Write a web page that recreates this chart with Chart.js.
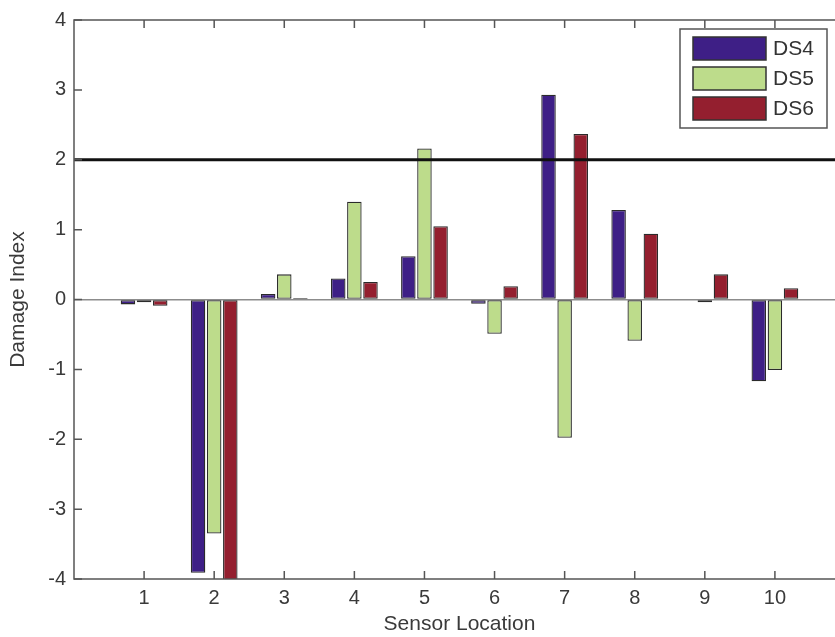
<!DOCTYPE html>
<html>
<head>
<meta charset="utf-8">
<script src="https://cdn.jsdelivr.net/npm/chart.js@4.4.0/dist/chart.umd.min.js"></script>
<style>
  html, body { margin: 0; padding: 0; background: #fff; overflow: hidden; }
  #wrap { width: 850px; height: 637px; }
</style>
</head>
<body>
<div id="wrap"><canvas id="chart" width="850" height="637"></canvas></div>
<script>
// Sensor locations and damage index per damage scenario
const sensors = [1, 2, 3, 4, 5, 6, 7, 8, 9, 10];
const ds4 = [-0.07, -3.91, 0.08, 0.30, 0.62, -0.06, 2.93, 1.28, 0.01, -1.17];
const ds5 = [-0.04, -3.35, 0.36, 1.40, 2.16, -0.49, -1.98, -0.59, -0.04, -1.01];
const ds6 = [-0.09, -4.05, 0.02, 0.25, 1.05, 0.19, 2.37, 0.94, 0.36, 0.16];
const seriesLabels = ["DS4", "DS5", "DS6"];
const yTicks = [-4, -3, -2, -1, 0, 1, 2, 3, 4];
const threshold = 2;

const colors = ["#3e1f86", "#bddc8b", "#941f2f"];
const fontFamily = "'Liberation Sans', Arial, Helvetica, sans-serif";

function toPoints(values) {
    return values.map((v, i) => ({ x: sensors[i], y: v }));
}

// MATLAB-like box with inward ticks on all four sides
const framePlugin = {
    id: "frame",
    afterDatasetsDraw(chart) {
        const { ctx, chartArea: a, scales } = chart;
        ctx.save();

        // threshold line
        const ty = scales.y.getPixelForValue(threshold);
        ctx.strokeStyle = "#111";
        ctx.lineWidth = 3;
        ctx.beginPath();
        ctx.moveTo(a.left, ty);
        ctx.lineTo(a.right, ty);
        ctx.stroke();

        ctx.strokeStyle = "#555";
        ctx.lineWidth = 1.5;
        ctx.strokeRect(a.left, a.top, a.right - a.left, a.bottom - a.top);

        const len = 8;
        ctx.beginPath();
        sensors.forEach(s => {
            const px = scales.x.getPixelForValue(s);
            ctx.moveTo(px, a.bottom); ctx.lineTo(px, a.bottom - len);
            ctx.moveTo(px, a.top); ctx.lineTo(px, a.top + len);
        });
        yTicks.forEach(t => {
            const py = scales.y.getPixelForValue(t);
            ctx.moveTo(a.left, py); ctx.lineTo(a.left + len, py);
            ctx.moveTo(a.right, py); ctx.lineTo(a.right - len, py);
        });
        ctx.stroke();
        ctx.restore();
    }
};

// legend box in the upper right corner
const legendPlugin = {
    id: "boxLegend",
    afterDraw(chart) {
        const { ctx } = chart;
        const x = 680, y = 29, w = 147, h = 99;
        ctx.save();
        ctx.fillStyle = "#fff";
        ctx.fillRect(x, y, w, h);
        ctx.strokeStyle = "#555";
        ctx.lineWidth = 1.5;
        ctx.strokeRect(x, y, w, h);

        ctx.font = "21px " + fontFamily;
        ctx.textBaseline = "middle";
        chart.data.datasets.forEach((ds, i) => {
            const sy = 37 + i * 30;
            ctx.fillStyle = ds.backgroundColor;
            ctx.fillRect(693, sy, 73, 23);
            ctx.strokeStyle = "#333";
            ctx.lineWidth = 1.5;
            ctx.strokeRect(693, sy, 73, 23);
            ctx.fillStyle = "#333";
            ctx.fillText(ds.label, 773, sy + 12);
        });
        ctx.restore();
    }
};

new Chart(document.getElementById("chart"), {
    type: "bar",
    data: {
        datasets: [ds4, ds5, ds6].map((vals, i) => ({
            label: seriesLabels[i],
            data: toPoints(vals),
            backgroundColor: colors[i],
            borderColor: "#2b2b2b",
            borderWidth: 1.3,
            borderSkipped: false,
            categoryPercentage: 0.69,
            barPercentage: 0.9
        }))
    },
    options: {
        responsive: false,
        animation: false,
        layout: { padding: { top: 18, right: 5, left: 0, bottom: 0 } },
        plugins: {
            legend: { display: false },
            tooltip: { enabled: false }
        },
        scales: {
            x: {
                type: "linear",
                min: 0,
                max: 11,
                offset: false,
                afterFit(scale) { scale.height = 58; },
                grid: { display: false, drawTicks: false },
                border: { display: false },
                afterBuildTicks(scale) {
                    scale.ticks = sensors.map(v => ({ value: v }));
                },
                ticks: {
                    color: "#3a3a3a",
                    padding: 7,
                    maxRotation: 0,
                    font: { size: 20, family: fontFamily }
                },
                title: {
                    display: true,
                    text: "Sensor Location",
                    color: "#3a3a3a",
                    padding: { top: 0, bottom: 0 },
                    font: { size: 21, family: fontFamily }
                }
            },
            y: {
                min: -4,
                max: 4,
                afterFit(scale) { scale.width = 74; },
                afterBuildTicks(scale) {
                    scale.ticks = yTicks.map(v => ({ value: v }));
                },
                grid: {
                    drawTicks: false,
                    lineWidth: 1.5,
                    color: c => (c.tick && c.tick.value === 0 ? "#8c8c8c" : "rgba(0,0,0,0)")
                },
                border: { display: false },
                ticks: {
                    color: "#3a3a3a",
                    padding: 8,
                    font: { size: 20, family: fontFamily }
                },
                title: {
                    display: true,
                    text: "Damage Index",
                    color: "#3a3a3a",
                    padding: { top: 6, bottom: 0 },
                    font: { size: 21, family: fontFamily }
                }
            }
        }
    },
    plugins: [framePlugin, legendPlugin]
});
</script>
</body>
</html>
